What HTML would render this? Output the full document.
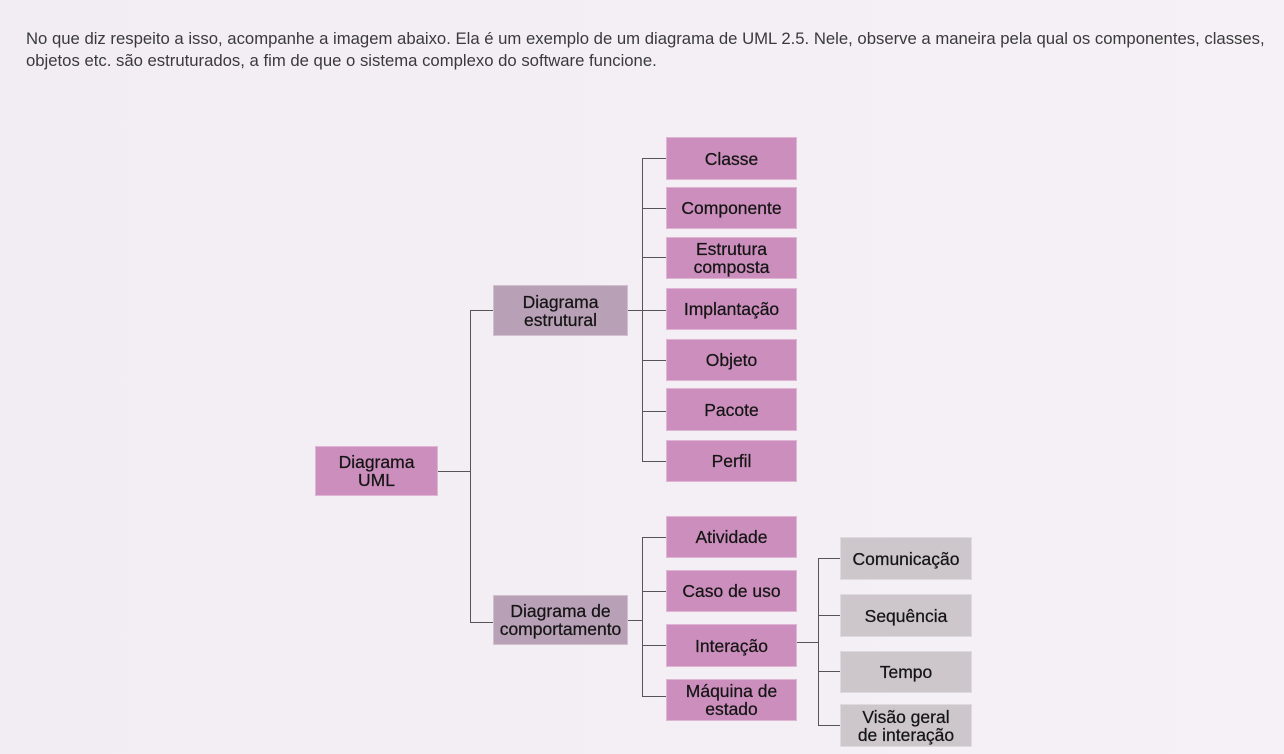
<!DOCTYPE html>
<html><head><meta charset="utf-8"><style>
html,body{margin:0;padding:0}
body{width:1284px;height:754px;background:linear-gradient(90deg,#f1edf3,#f3eff5 60%,#f5f1f6);position:relative;overflow:hidden;font-family:"Liberation Sans",sans-serif;color:#333}
.p{position:absolute;left:26px;top:28px;font-size:16.7px;line-height:22px;white-space:nowrap;color:#3a3a3a}
.b{position:absolute;display:flex;align-items:center;justify-content:center;text-align:center;font-size:17.5px;line-height:18px;color:#151515;box-sizing:border-box;border:1px solid rgba(255,255,255,.35);-webkit-text-stroke:0.25px #151515}
.k{background:#cc8fbd}
.m{background:#b8a0b6}
.g{background:#cdc7cc}
.l{position:absolute;background:#555}
</style></head><body>
<div class="p">No que diz respeito a isso, acompanhe a imagem abaixo. Ela é um exemplo de um diagrama de UML 2.5. Nele, observe a maneira pela qual os componentes, classes,<br>objetos etc. são estruturados, a fim de que o sistema complexo do software funcione.</div>

<div class="l" style="left:438px;top:471px;width:32px;height:1px"></div>
<div class="l" style="left:470px;top:310px;width:1px;height:313px"></div>
<div class="l" style="left:470px;top:310px;width:23px;height:1px"></div>
<div class="l" style="left:470px;top:622px;width:23px;height:1px"></div>
<div class="l" style="left:628px;top:310px;width:38px;height:1px"></div>
<div class="l" style="left:642px;top:158px;width:1px;height:303px"></div>
<div class="l" style="left:642px;top:158px;width:24px;height:1px"></div>
<div class="l" style="left:642px;top:208px;width:24px;height:1px"></div>
<div class="l" style="left:642px;top:257px;width:24px;height:1px"></div>
<div class="l" style="left:642px;top:360px;width:24px;height:1px"></div>
<div class="l" style="left:642px;top:411px;width:24px;height:1px"></div>
<div class="l" style="left:642px;top:461px;width:24px;height:1px"></div>
<div class="l" style="left:628px;top:620px;width:14px;height:1px"></div>
<div class="l" style="left:642px;top:537px;width:1px;height:160px"></div>
<div class="l" style="left:642px;top:537px;width:24px;height:1px"></div>
<div class="l" style="left:642px;top:591px;width:24px;height:1px"></div>
<div class="l" style="left:642px;top:645px;width:24px;height:1px"></div>
<div class="l" style="left:642px;top:696px;width:24px;height:1px"></div>
<div class="l" style="left:797px;top:642px;width:21px;height:1px"></div>
<div class="l" style="left:818px;top:558px;width:1px;height:168px"></div>
<div class="l" style="left:818px;top:558px;width:22px;height:1px"></div>
<div class="l" style="left:818px;top:615px;width:22px;height:1px"></div>
<div class="l" style="left:818px;top:671px;width:22px;height:1px"></div>
<div class="l" style="left:818px;top:725px;width:22px;height:1px"></div>

<div class="b k" style="left:315px;top:446px;width:123px;height:50px">Diagrama<br>UML</div>
<div class="b m" style="left:493px;top:285px;width:135px;height:51px">Diagrama<br>estrutural</div>
<div class="b m" style="left:493px;top:595px;width:135px;height:50px">Diagrama de<br>comportamento</div>

<div class="b k" style="left:666px;top:137px;width:131px;height:43px">Classe</div>
<div class="b k" style="left:666px;top:187px;width:131px;height:42px">Componente</div>
<div class="b k" style="left:666px;top:237px;width:131px;height:42px">Estrutura<br>composta</div>
<div class="b k" style="left:666px;top:288px;width:131px;height:42px">Implantação</div>
<div class="b k" style="left:666px;top:339px;width:131px;height:42px">Objeto</div>
<div class="b k" style="left:666px;top:388px;width:131px;height:43px">Pacote</div>
<div class="b k" style="left:666px;top:440px;width:131px;height:42px">Perfil</div>

<div class="b k" style="left:666px;top:516px;width:131px;height:42px">Atividade</div>
<div class="b k" style="left:666px;top:570px;width:131px;height:42px">Caso de uso</div>
<div class="b k" style="left:666px;top:624px;width:131px;height:43px">Interação</div>
<div class="b k" style="left:666px;top:679px;width:131px;height:42px">Máquina de<br>estado</div>

<div class="b g" style="left:840px;top:537px;width:132px;height:43px">Comunicação</div>
<div class="b g" style="left:840px;top:594px;width:132px;height:43px">Sequência</div>
<div class="b g" style="left:840px;top:651px;width:132px;height:42px">Tempo</div>
<div class="b g" style="left:840px;top:704px;width:132px;height:43px">Visão geral<br>de interação</div>
</body></html>
